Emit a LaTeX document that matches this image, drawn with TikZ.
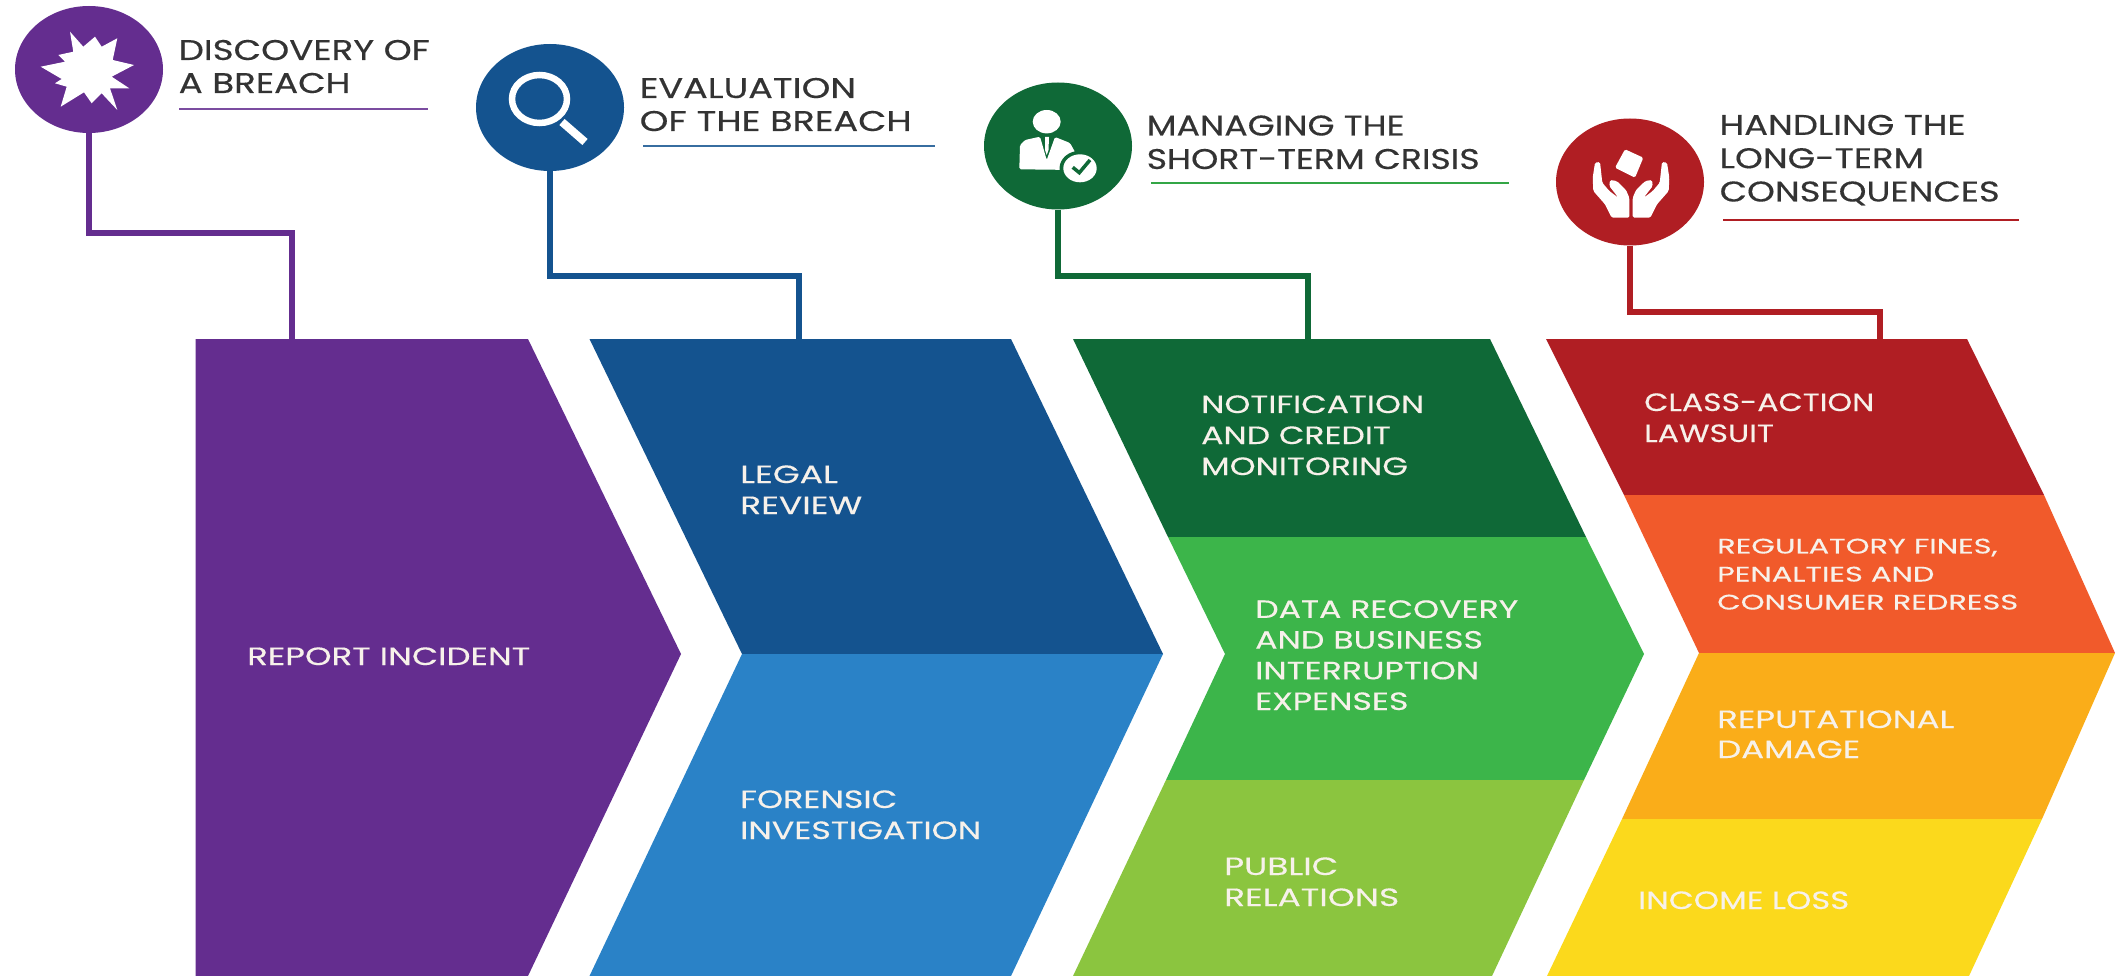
\documentclass[tikz,border=0pt]{standalone}
\usepackage{fontspec}
\usepackage{graphicx}
\setmainfont{Poppins}[FakeBold=0.3]
\usetikzlibrary{shapes.geometric}
\definecolor{cpurple}{HTML}{642D8F}
\definecolor{cblue}{HTML}{14538F}
\definecolor{cblueb}{HTML}{2A82C7}
\definecolor{cgreen}{HTML}{0F6937}
\definecolor{cgreenb}{HTML}{3CB54A}
\definecolor{cgreenc}{HTML}{8BC53F}
\definecolor{cred}{HTML}{B01E23}
\definecolor{corange}{HTML}{F15A2B}
\definecolor{camber}{HTML}{FAAD19}
\definecolor{cyellow}{HTML}{FBD91C}
\definecolor{chead}{HTML}{333333}
\definecolor{cbody}{HTML}{F7F1EA}
% width, font size, leading, lines
\newcommand\fitlines[4]{\resizebox{#1pt}{\height}{\fontsize{#2}{#3}\selectfont\begin{tabular}[b]{@{}l@{}}#4\end{tabular}}}
\tikzset{
  x=1pt,y=-1pt,
  badge/.style={ellipse,inner sep=0pt,minimum width=148pt,minimum height=127pt,fill=#1},
  link/.style={draw=#1,line width=6.5pt,line join=miter},
  rulel/.style={draw=#1,line width=2.8pt},
  headtxt/.style={anchor=base west,inner sep=0pt,text=chead},
  bodytxt/.style={anchor=base west,inner sep=0pt,text=cbody},
  iconfill/.style={fill=white,rounded corners=1.5pt},
}
\begin{document}
\begin{tikzpicture}
\useasboundingbox (0,0) rectangle (2115,976);
\fill[white] (0,0) rectangle (2115,976);

% anchor coordinates
\coordinate (p1) at (292,339); \coordinate (t1) at (292,233);
\coordinate (p2) at (799,339); \coordinate (t2) at (799,276);
\coordinate (p3) at (1308,339); \coordinate (t3) at (1308,276);
\coordinate (p4) at (1880,339); \coordinate (t4) at (1880,312);

% badges
\node[badge=cpurple] (c1) at (89,69.5) {};
\node[badge=cblue] (c2) at (550,107.5) {};
\node[badge=cgreen] (c3) at (1058,146) {};
\node[badge=cred] (c4) at (1630,182) {};

% connectors
\draw[link=cpurple] (c1.south) |- (t1) -- (p1);
\draw[link=cblue] (c2.south) |- (t2) -- (p2);
\draw[link=cgreen] (c3.south) |- (t3) -- (p3);
\draw[link=cred] (c4.south) |- (t4) -- (p4);

% panels
\fill[cpurple] (195.5,339) -- (528,339) -- (681,654) -- (528,976) -- (195.5,976) -- cycle;
\fill[cblue] (589.5,339) -- (1011,339) -- (1163,654) -- (742,654) -- cycle;
\fill[cblueb] (742,654) -- (1163,654) -- (1011,976) -- (589.5,976) -- cycle;
\fill[cgreen] (1073,339) -- (1490,339) -- (1586,537) -- (1168,537) -- cycle;
\fill[cgreenb] (1168,537) -- (1586,537) -- (1644,654) -- (1584,780) -- (1166,780) -- (1225,654) -- cycle;
\fill[cgreenc] (1166,780) -- (1584,780) -- (1492,976) -- (1073,976) -- cycle;
\fill[cred] (1546,339) -- (1967,339) -- (2044,495) -- (1624,495) -- cycle;
\fill[corange] (1624,495) -- (2044,495) -- (2115,653) -- (1699,653) -- cycle;
\fill[camber] (1699,653) -- (2115,653) -- (2042,819) -- (1622,819) -- cycle;
\fill[cyellow] (1622,819) -- (2042,819) -- (1969,976) -- (1547,976) -- cycle;

% rules
\coordinate (r1a) at (179,109); \coordinate (r1b) at (428,109);
\coordinate (r2a) at (643,146); \coordinate (r2b) at (935,146);
\coordinate (r3a) at (1151,183); \coordinate (r3b) at (1509,183);
\coordinate (r4a) at (1723,220); \coordinate (r4b) at (2019,220);
\draw[rulel=cpurple!85!white] (r1a) -- (r1b);
\draw[rulel=cblue!85!white] (r2a) -- (r2b);
\draw[rulel=cgreenb!80!cgreen] (r3a) -- (r3b);
\draw[rulel=cred] (r4a) -- (r4b);

% icon: burst
\fill[white] (70,31.7) -- (83.3,46.7) -- (95,36.7) -- (101.7,46.7) -- (117.3,38.3) -- (112.7,60) -- (134,65) -- (111.7,76.7) -- (129.3,88.3) -- (110,88.3) -- (117.3,110) -- (101.7,93.3) -- (91.7,103.3) -- (84,92.3) -- (60.7,106.7) -- (66.7,86.7) -- (55,83.3) -- (61.7,79) -- (40.7,66.7) -- (65,61.7) -- (58.3,55) -- (73.3,51.7) -- cycle;

% icon: magnifier
\draw[white,line width=6.5pt] (539.5,99) ellipse[x radius=27.5pt,y radius=24pt];
\draw[white,line width=8pt] (562,122) -- (585,142);

% icon: person with check
\fill[white] (1046.7,121.7) ellipse[x radius=14pt,y radius=11.7pt];
\fill[iconfill] (1019.3,169.3) -- (1020,145) -- (1025,140) -- (1040,136.7) -- (1046.7,160) -- (1055,137) -- (1070,143) -- (1075,152) -- (1075,170) -- cycle;
\fill[white] (1045,137) -- (1049,137) -- (1048.5,150) -- (1046.7,155) -- (1045,150) -- cycle;
\fill[cgreen] (1080,168.3) ellipse[x radius=20.5pt,y radius=17.5pt];
\fill[white] (1080,168.3) ellipse[x radius=16.7pt,y radius=14pt];
\draw[cgreen,line width=3.5pt] (1072.7,167.3) -- (1079.3,172.7) -- (1090,160);

% icon: hands and box
\fill[iconfill] (1625,149.3) -- (1643.3,157.7) -- (1635,177.7) -- (1615,167.7) -- cycle;
\fill[iconfill] (1595,162.7) -- (1600,162) -- (1602.3,182.7) -- (1609.3,191) -- (1618.3,197.7) -- (1609.3,186) -- (1610,180) -- (1616.7,181) -- (1626,190) -- (1629.3,197.7) -- (1629.3,217.7) -- (1611.7,217.7) -- (1605,204.3) -- (1593.3,191) -- (1592.7,177.7) -- cycle;
\fill[iconfill] (1667,162.7) -- (1662,162) -- (1659.7,182.7) -- (1652.7,191) -- (1643.7,197.7) -- (1652.7,186) -- (1652,180) -- (1645.3,181) -- (1636,190) -- (1632.7,197.7) -- (1632.7,217.7) -- (1650.3,217.7) -- (1657,204.3) -- (1668.7,191) -- (1669.3,177.7) -- cycle;

% headings
\node[headtxt] (h1) at (178.5,93) {\fitlines{251}{28.5}{33}{DISCOVERY OF\\A BREACH}};
\node[headtxt] (h2) at (639.5,131) {\fitlines{272}{28.5}{33}{EVALUATION\\OF THE BREACH}};
\node[headtxt] (h3) at (1146.5,169) {\fitlines{333}{28.5}{33.5}{MANAGING THE\\SHORT-TERM CRISIS}};
\node[headtxt] (h4) at (1719.5,201.5) {\fitlines{280}{28.5}{33.3}{HANDLING THE\\LONG-TERM\\CONSEQUENCES}};

% panel labels
\node[bodytxt] (b1) at (247,665) {\fitlines{283}{25}{30}{REPORT INCIDENT}};
\node[bodytxt] (b2) at (740,514) {\fitlines{122}{25}{31}{LEGAL\\REVIEW}};
\node[bodytxt] (b3) at (740,839) {\fitlines{241}{25}{31}{FORENSIC\\INVESTIGATION}};
\node[bodytxt] (b4) at (1201,475) {\fitlines{223}{25}{31}{NOTIFICATION\\AND CREDIT\\MONITORING}};
\node[bodytxt] (b5) at (1255,710) {\fitlines{263}{25}{30.7}{DATA RECOVERY\\AND BUSINESS\\INTERRUPTION\\EXPENSES}};
\node[bodytxt] (b6) at (1224,906) {\fitlines{175}{25}{31}{PUBLIC\\RELATIONS}};
\node[bodytxt] (b7) at (1644,442) {\fitlines{230}{25}{31}{CLASS-ACTION\\LAWSUIT}};
\node[bodytxt] (b8) at (1717,609.5) {\fitlines{301}{21}{28}{REGULATORY FINES,\\PENALTIES AND\\CONSUMER REDRESS}};
\node[bodytxt] (b9) at (1717,758) {\fitlines{237}{25}{30}{REPUTATIONAL\\DAMAGE}};
\node[bodytxt] (b10) at (1638,909) {\fitlines{211}{25}{30}{INCOME LOSS}};
\end{tikzpicture}
\end{document}
